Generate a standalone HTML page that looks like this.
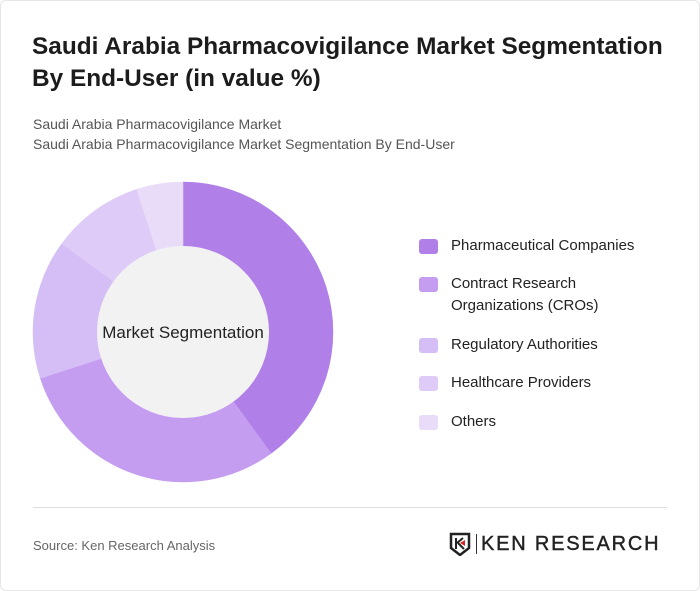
<!DOCTYPE html>
<html><head><meta charset="utf-8"><style>
body{margin:0;background:#fff;font-family:"Liberation Sans",sans-serif;}
#card{position:relative;width:698px;height:589px;border:1px solid #e6e6e6;border-radius:6px;background:#fff;overflow:hidden}
h1{position:absolute;left:31px;top:30px;margin:0;font-size:24.4px;line-height:32px;font-weight:bold;color:#1c1c1c;width:650px}
.sub{position:absolute;left:32px;font-size:14px;color:#555}
.leg{position:absolute;left:418px;font-size:15px;color:#222;line-height:22px}
.sw{position:absolute;left:0;top:4px;width:19px;height:15px;border-radius:3px}
.lt{position:absolute;left:32px;white-space:nowrap}
</style></head><body>
<div id="card">
<h1>Saudi Arabia Pharmacovigilance Market Segmentation By End-User (in value %)</h1>
<div class="sub" style="top:115px">Saudi Arabia Pharmacovigilance Market</div>
<div class="sub" style="top:135px">Saudi Arabia Pharmacovigilance Market Segmentation By End-User</div>
<svg id="donut" width="700" height="591" style="position:absolute;left:0;top:0"></svg>
<div id="legend"></div>
<div style="position:absolute;left:32px;right:32px;top:506px;border-top:1px solid #ddd"></div>
<div style="position:absolute;left:32px;top:537px;font-size:13px;color:#666">Source: Ken Research Analysis</div>
<div style="position:absolute;left:448px;top:531px;width:222px;height:24px">
<svg width="24" height="24" style="position:absolute;left:0;top:0"><path d="M2 2h18v14l-9 7-9-7z" fill="none" stroke="#222" stroke-width="2.5"/><path d="M7 6v11M8 11l6-5M9 11l6 6" stroke="#222" stroke-width="2"/><path d="M11 11l5-3v6z" fill="#d22"/></svg>
<div style="position:absolute;left:27px;top:2px;width:1px;height:20px;background:#333"></div>
<div style="position:absolute;left:32px;top:1px;font-size:20px;letter-spacing:1.8px;color:#222;-webkit-text-stroke:0.4px #222">KEN RESEARCH</div>
</div>
</div>
<script>
const categories=["Pharmaceutical Companies","Contract Research Organizations (CROs)","Regulatory Authorities","Healthcare Providers","Others"];
const values=[40,30,15,10,5];
const colors=["#b07fe8","#c49cf0","#d5bdf5","#dfcbf7","#e9dcf9"];
const svg=document.getElementById('donut');const NS="http://www.w3.org/2000/svg";
const cx=182,cy=331,R=150,r=86;
const total=values.reduce((a,b)=>a+b,0);
let a0=0;
function pt(rad,a){return [cx+rad*Math.sin(a),cy-rad*Math.cos(a)];}
values.forEach((v,i)=>{
 const a1=a0+v/total*2*Math.PI;const lg=(a1-a0)>Math.PI?1:0;
 const [x0,y0]=pt(R,a0),[x1,y1]=pt(R,a1),[x2,y2]=pt(r,a1),[x3,y3]=pt(r,a0);
 const p=document.createElementNS(NS,'path');
 p.setAttribute('d',`M${x0} ${y0}A${R} ${R} 0 ${lg} 1 ${x1} ${y1}L${x2} ${y2}A${r} ${r} 0 ${lg} 0 ${x3} ${y3}Z`);
 p.setAttribute('fill',colors[i]);p.setAttribute('stroke',colors[i]);p.setAttribute('stroke-width','0.5');
 
 
 svg.appendChild(p);a0=a1;
});
const c=document.createElementNS(NS,'circle');c.setAttribute('cx',cx);c.setAttribute('cy',cy);c.setAttribute('r',r);c.setAttribute('fill','#f2f2f2');


svg.appendChild(c);
const t=document.createElementNS(NS,'text');t.setAttribute('x',cx);t.setAttribute('y',cy+6);t.setAttribute('text-anchor','middle');t.setAttribute('font-size','17');t.setAttribute('fill','#222');t.setAttribute('font-family','Liberation Sans, sans-serif');t.textContent='Market Segmentation';


svg.appendChild(t);
const tops=[234,272,333,371,410];
const leg=document.getElementById('legend');
categories.forEach((n,i)=>{
 const d=document.createElement('div');d.className='leg';d.style.top=tops[i]+'px';
 
 
 const txt=i===1?'Contract Research<br>Organizations (CROs)':n;
 d.innerHTML=`<div class="sw" style="background:${colors[i]}"></div><div class="lt">${txt}</div>`;
 leg.appendChild(d);
});
</script>
</body></html>
